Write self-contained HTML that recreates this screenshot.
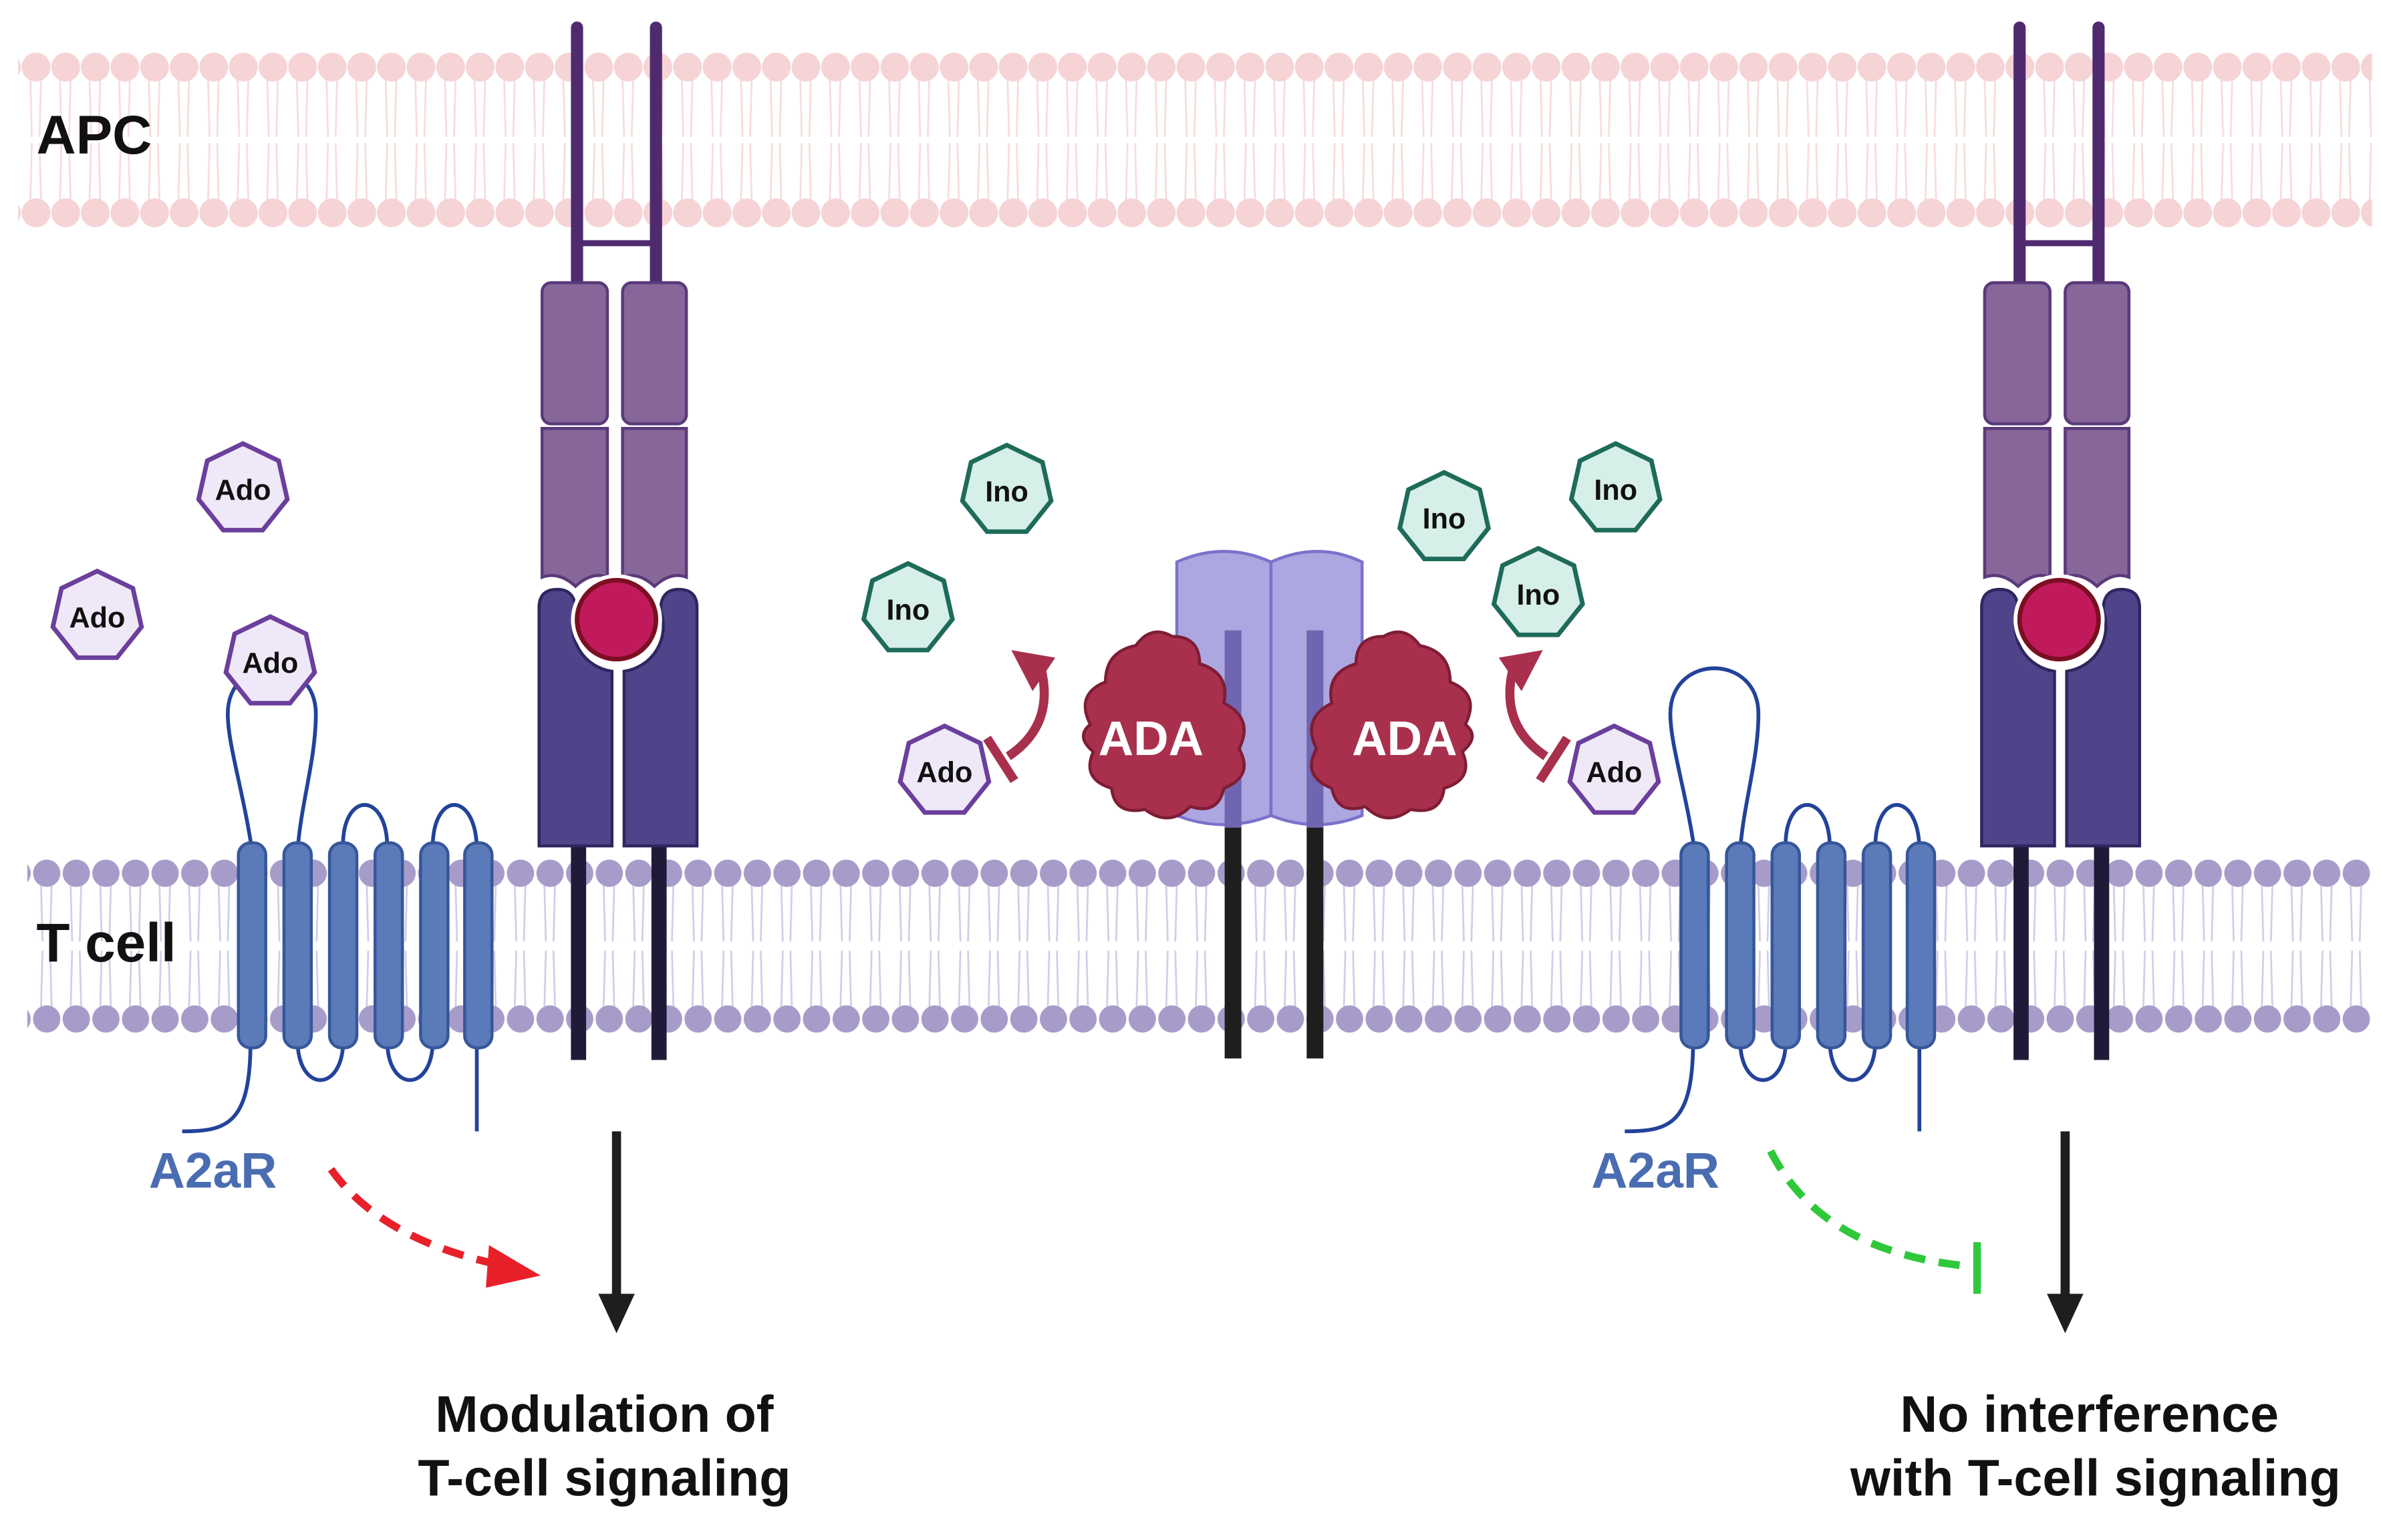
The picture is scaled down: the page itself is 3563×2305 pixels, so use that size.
<!DOCTYPE html>
<html><head><meta charset="utf-8"><style>
html,body{margin:0;padding:0;background:#fff;}
svg{display:block;}
text{font-family:"Liberation Sans",sans-serif;font-weight:bold;}
</style></head><body>
<svg width="3563" height="2305" viewBox="0 0 1568 1014" xmlns="http://www.w3.org/2000/svg">
<defs>
<pattern id="apc" x="14" y="0" width="19.5" height="1014" patternUnits="userSpaceOnUse">
  <path d="M6 52 L7 90 M13 52 L12 90 M6 132 L7 94 M13 132 L12 94" stroke="#f8dcdc" stroke-width="1.2" fill="none"/>
  <circle cx="9.75" cy="44" r="9.5" fill="#f6d3d5"/>
  <circle cx="9.75" cy="140" r="9.5" fill="#f6d3d5"/>
</pattern>
<pattern id="tc" x="21" y="0" width="19.5" height="1014" patternUnits="userSpaceOnUse">
  <path d="M6 582 L7 620 M13 582 L12 620 M6 664 L7 626 M13 664 L12 626" stroke="#d3cce8" stroke-width="1.2" fill="none"/>
  <circle cx="9.75" cy="575" r="9" fill="#a79cc9"/>
  <circle cx="9.75" cy="671" r="9" fill="#a79cc9"/>
</pattern>
<g id="rec">
  <path d="M380 18 V185 M432 18 V185" stroke="#4f2a6f" stroke-width="8" stroke-linecap="round"/>
  <path d="M380 160 H432" stroke="#4f2a6f" stroke-width="4"/>
  <rect x="357" y="186" width="43" height="93" rx="6" fill="#876699" stroke="#5b3a7a" stroke-width="2"/>
  <rect x="410" y="186" width="42" height="93" rx="6" fill="#876699" stroke="#5b3a7a" stroke-width="2"/>
  <path d="M357 282 h43 v98 q-10 -4 -21 6 q-11 -10 -22 -6z" fill="#876699" stroke="#5b3a7a" stroke-width="2"/>
  <path d="M410 282 h42 v98 q-10 -4 -21 6 q-11 -10 -21 -6z" fill="#876699" stroke="#5b3a7a" stroke-width="2"/>
  <path d="M381 557 V698 M434 557 V698" stroke="#1e1a38" stroke-width="10"/>
  <path d="M355 400 q0 -12 12 -12 q12 0 12 14 a30 30 0 0 0 24 40 V557 H355z" fill="#4f4489" stroke="#2f265f" stroke-width="2"/>
  <path d="M459 400 q0 -12 -12 -12 q-12 0 -12 14 a30 30 0 0 1 -24 40 V557 H459z" fill="#4f4489" stroke="#2f265f" stroke-width="2"/>
  <circle cx="406" cy="408" r="30" fill="#fff"/>
  <circle cx="406" cy="408" r="26" fill="#c11a5c" stroke="#7b0f22" stroke-width="3"/>
</g>
<g id="a2a">
  <path d="M166 560 C160 520 150 490 150 470 C150 430 208 430 208 470 C208 500 198 530 196 560" fill="none" stroke="#23439a" stroke-width="2.5"/>
  <path d="M226 560 C224 520 256 520 255 560 M285 560 C284 520 314 520 314 560" fill="none" stroke="#23439a" stroke-width="2.5"/>
  <path d="M196 685 C196 720 226 720 226 685 M255 685 C255 720 285 720 285 685" fill="none" stroke="#23439a" stroke-width="2.5"/>
  <path d="M165 685 C165 740 150 745 120 745 M314 685 V745" fill="none" stroke="#23439a" stroke-width="2.5"/>
  <g fill="#5a7ab9" stroke="#36579a" stroke-width="2">
    <rect x="157" y="555" width="18" height="135" rx="8"/>
    <rect x="187" y="555" width="18" height="135" rx="8"/>
    <rect x="217" y="555" width="18" height="135" rx="8"/>
    <rect x="247" y="555" width="18" height="135" rx="8"/>
    <rect x="277" y="555" width="18" height="135" rx="8"/>
    <rect x="306" y="555" width="18" height="135" rx="8"/>
  </g>
</g>
<g id="ado"><polygon points="0,-30 23.5,-18.7 29.2,6.7 13,27 -13,27 -29.2,6.7 -23.5,-18.7" fill="#efe8f8" stroke="#6b3f9c" stroke-width="3"/></g>
<g id="ino"><polygon points="0,-30 23.5,-18.7 29.2,6.7 13,27 -13,27 -29.2,6.7 -23.5,-18.7" fill="#d6efe8" stroke="#1e6b5a" stroke-width="3"/></g>
<g id="ada">
  <path d="M-40 -8 q-10 -20 10 -28 q0 -20 20 -24 q10 -14 24 -6 q18 0 18 18 q20 6 16 26 q20 10 10 30 q10 18 -10 26 q-4 18 -22 12 q-14 14 -30 2 q-20 4 -22 -14 q-20 -6 -12 -24 q-12 -10 -2 -18z" fill="#a8304d" stroke="#7e1d35" stroke-width="2"/>
</g>
</defs>
<rect width="1568" height="1014" fill="#fff"/>
<rect x="12" y="30" width="1550" height="125" fill="url(#apc)"/>
<rect x="18" y="562" width="1544" height="122" fill="url(#tc)"/>
<text x="24" y="101" font-size="36" fill="#111">APC</text>
<text x="24" y="633" font-size="36" fill="#111">T cell</text>

<use href="#rec"/>
<use href="#rec" transform="translate(950,0)"/>
<use href="#a2a"/>
<use href="#a2a" transform="translate(950,0)"/>

<!-- central dimer -->
<path d="M812 415 V697 M866 415 V697" stroke="#1e1e1e" stroke-width="11"/>
<g fill="#9f98dc" fill-opacity="0.85" stroke="#7b72cc" stroke-width="2">
  <path d="M775 370 q31 -14 62 0 V537 q-31 12 -62 0z"/>
  <path d="M837 370 q31 -14 60 0 V537 q-30 12 -60 0z"/>
</g>
<path d="M812 415 V545 M866 415 V545" stroke="#6f65b0" stroke-width="11"/>
<use href="#ada" transform="translate(758,485)"/>
<use href="#ada" transform="translate(925,485) scale(-1,1)"/>
<text x="758" y="497" font-size="32" fill="#fff" text-anchor="middle">ADA</text>
<text x="925" y="497" font-size="32" fill="#fff" text-anchor="middle">ADA</text>

<!-- small arrows -->
<path d="M664 498 q30 -20 22 -56" fill="none" stroke="#a8304d" stroke-width="6"/>
<polygon points="666,428 695,433 680,455" fill="#a8304d"/>
<path d="M650 486 L668 514" stroke="#a8304d" stroke-width="6"/>
<path d="M1018 498 q-30 -20 -22 -56" fill="none" stroke="#a8304d" stroke-width="6"/>
<polygon points="1016,428 987,433 1002,455" fill="#a8304d"/>
<path d="M1032 486 L1014 514" stroke="#a8304d" stroke-width="6"/>

<!-- molecules -->
<g font-size="19" text-anchor="middle" fill="#111">
<use href="#ado" x="160" y="322"/><text x="160" y="329">Ado</text>
<use href="#ado" x="64" y="406"/><text x="64" y="413">Ado</text>
<use href="#ado" x="178" y="436"/><text x="178" y="443">Ado</text>
<use href="#ado" x="622" y="508"/><text x="622" y="515">Ado</text>
<use href="#ado" x="1063" y="508"/><text x="1063" y="515">Ado</text>
<use href="#ino" x="663" y="323"/><text x="663" y="330">Ino</text>
<use href="#ino" x="598" y="401"/><text x="598" y="408">Ino</text>
<use href="#ino" x="951" y="341"/><text x="951" y="348">Ino</text>
<use href="#ino" x="1064" y="322"/><text x="1064" y="329">Ino</text>
<use href="#ino" x="1013" y="391"/><text x="1013" y="398">Ino</text>
</g>

<text x="98" y="782" font-size="33" fill="#4a6db2">A2aR</text>
<text x="1048" y="782" font-size="33" fill="#4a6db2">A2aR</text>

<!-- signaling arrows -->
<path d="M406 745 V855" stroke="#1e1e1e" stroke-width="6"/>
<polygon points="394,852 418,852 406,878" fill="#1e1e1e"/>
<path d="M1360 745 V855" stroke="#1e1e1e" stroke-width="6"/>
<polygon points="1348,852 1372,852 1360,878" fill="#1e1e1e"/>
<path d="M218 770 Q250 815 325 832" fill="none" stroke="#e8202a" stroke-width="5" stroke-dasharray="14 9"/>
<polygon points="322,820 356,840 320,848" fill="#e8202a"/>
<path d="M1166 758 Q1200 825 1298 834" fill="none" stroke="#2fc83a" stroke-width="5" stroke-dasharray="14 9"/>
<path d="M1302 818 V852" stroke="#2fc83a" stroke-width="5"/>

<g font-size="34" fill="#111" text-anchor="middle">
<text x="398" y="943">Modulation of</text>
<text x="398" y="985">T-cell signaling</text>
<text x="1376" y="943">No interference</text>
<text x="1380" y="985">with T-cell signaling</text>
</g>
</svg>
</body></html>
